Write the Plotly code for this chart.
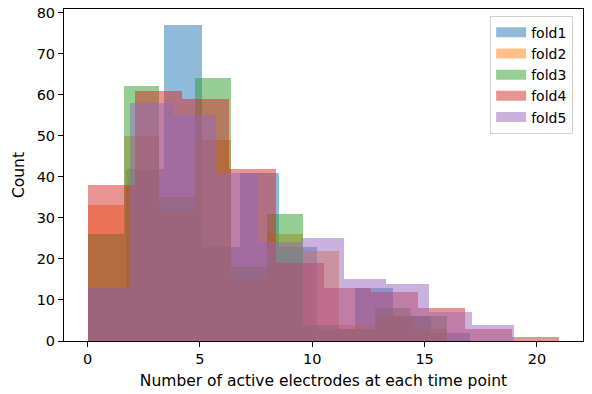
import numpy as np
import plotly.graph_objects as go

# Five cross-validation folds, each histogrammed with 10 equal-width bins
# spanning that fold's own minimum and maximum value.
fold_names = ["fold1", "fold2", "fold3", "fold4", "fold5"]
fold_colors = ["#1f77b4", "#ff7f0e", "#2ca02c", "#d62728", "#9467bd"]
fold_min = [0, 0, 0, 0, 0]
fold_max = [17, 16, 16, 21, 19]
n_bins = 10

fold1_counts = [13, 42, 77, 23, 41, 23, 3, 13, 6, 2]
fold2_counts = [33, 50, 32, 49, 15, 26, 22, 4, 6, 3]
fold3_counts = [26, 62, 35, 64, 18, 31, 4, 3, 8, 6]
fold4_counts = [38, 61, 59, 42, 19, 13, 12, 8, 3, 1]
fold5_counts = [13, 58, 55, 41, 24, 25, 15, 14, 7, 4]
all_counts = [fold1_counts, fold2_counts, fold3_counts, fold4_counts, fold5_counts]

x_ticks = [0, 5, 10, 15, 20]
y_ticks = [0, 10, 20, 30, 40, 50, 60, 70, 80]


def rgba(hex_color, alpha):
    h = hex_color.lstrip("#")
    r, g, b = (int(h[i:i + 2], 16) for i in (0, 2, 4))
    return f"rgba({r},{g},{b},{alpha})"


fig = go.Figure()
for name, color, lo, hi, counts in zip(fold_names, fold_colors, fold_min, fold_max, all_counts):
    edges = np.linspace(lo, hi, n_bins + 1)
    centers = (edges[:-1] + edges[1:]) / 2
    widths = np.diff(edges)
    fig.add_trace(go.Bar(
        x=centers, y=counts, width=widths,
        marker=dict(color=rgba(color, 0.5), line=dict(width=0)),
        name=name, showlegend=False, hoverinfo="x+y+name",
    ))

# wide patch-like legend keys
for name, color in zip(fold_names, fold_colors):
    fig.add_trace(go.Scatter(
        x=[None], y=[None], mode="lines", name=name,
        line=dict(color=rgba(color, 0.5), width=10),
    ))

lo_all, hi_all = min(fold_min), max(fold_max)
pad = 0.05 * (hi_all - lo_all)
y_top = 1.05 * max(max(c) for c in all_counts)

tick_font = dict(family="DejaVu Sans", size=14.5, color="black")
title_font = dict(family="DejaVu Sans", size=15.5, color="black")
axis_common = dict(
    showgrid=False, zeroline=False, showline=True, mirror=True,
    linecolor="black", linewidth=1, ticks="outside", ticklen=5,
    tickcolor="black", tickwidth=1, tickfont=tick_font,
)

fig.update_layout(
    width=592, height=394,
    margin=dict(l=64, r=9, t=5, b=53),
    paper_bgcolor="white", plot_bgcolor="white",
    barmode="overlay", bargap=0,
    font=tick_font,
    xaxis=dict(range=[lo_all - pad, hi_all + pad], tickvals=x_ticks,
               title=dict(text="Number of active electrodes at each time point",
                          font=title_font, standoff=8),
               **axis_common),
    yaxis=dict(range=[0, y_top], tickvals=y_ticks,
               title=dict(text="Count", font=title_font, standoff=8),
               **axis_common),
    legend=dict(x=0.981, y=0.98, xanchor="right", yanchor="top",
                bgcolor="rgba(255,255,255,0.8)", bordercolor="#d0d0d0",
                borderwidth=1, font=dict(family="DejaVu Sans", size=14, color="black"),
                itemwidth=30),
)

fig.write_html("out.html")
